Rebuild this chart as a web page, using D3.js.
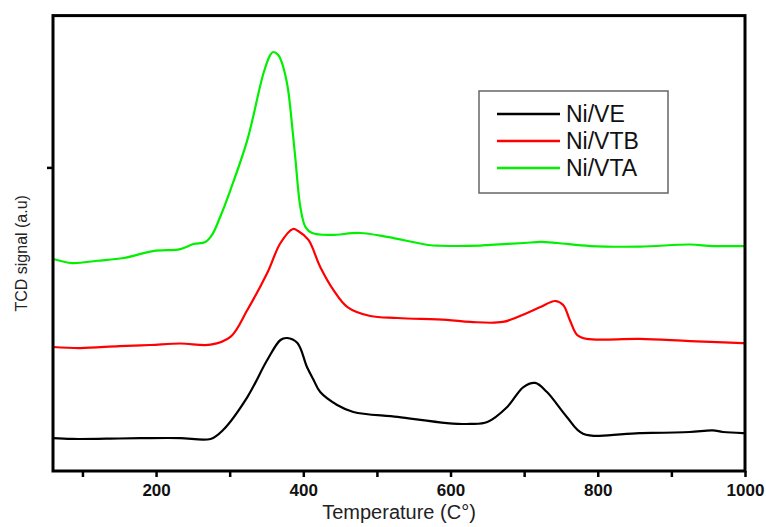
<!DOCTYPE html>
<html><head><meta charset="utf-8">
<script src="https://cdn.jsdelivr.net/npm/d3@7"></script>
<style>
html,body{margin:0;padding:0;background:#fff;}
svg{display:block;}
</style>
</head><body>
<svg id="chart" width="766" height="527"></svg>
<script>
// Temperature (°C) and TCD signal (a.u.)
const seriesNames = ["Ni/VE", "Ni/VTB", "Ni/VTA"];
const seriesColors = ["#000000", "#ff0000", "#00f000"];

const tempVE = [60, 86, 150, 192, 233, 274, 291, 324, 351, 369, 378, 392, 405, 414, 423, 446, 468, 528, 595, 627, 650, 677, 699, 715, 731, 758, 780, 857, 925, 956, 970, 997, 1000];
const sigVE  = [0.217, 0.211, 0.214, 0.217, 0.217, 0.211, 0.270, 0.487, 0.731, 0.863, 0.876, 0.843, 0.685, 0.60, 0.520, 0.435, 0.389, 0.356, 0.316, 0.310, 0.323, 0.422, 0.553, 0.580, 0.520, 0.356, 0.246, 0.250, 0.257, 0.268, 0.257, 0.250, 0.250];

const tempVTB = [60, 97, 150, 192, 233, 274, 301, 324, 351, 369, 386, 393, 407, 423, 441, 460, 491, 528, 595, 627, 671, 704, 722, 742, 753, 762, 772, 785, 857, 925, 997, 1000];
const sigVTB  = [0.817, 0.810, 0.823, 0.830, 0.840, 0.832, 0.883, 1.061, 1.304, 1.502, 1.594, 1.581, 1.522, 1.344, 1.192, 1.080, 1.021, 1.008, 0.995, 0.982, 0.982, 1.041, 1.080, 1.120, 1.094, 0.995, 0.896, 0.870, 0.870, 0.856, 0.843, 0.843];

const tempVTA = [60, 86, 120, 156, 196, 233, 251, 267, 276, 287, 301, 324, 346, 355, 359, 366, 371, 377, 380, 389, 396, 403, 412, 437, 477, 514, 570, 586, 640, 654, 700, 722, 745, 790, 857, 925, 956, 997, 1000];
const sigVTA  = [1.397, 1.370, 1.385, 1.403, 1.449, 1.462, 1.495, 1.509, 1.555, 1.673, 1.851, 2.181, 2.622, 2.740, 2.760, 2.740, 2.688, 2.576, 2.490, 2.069, 1.739, 1.607, 1.568, 1.555, 1.568, 1.542, 1.489, 1.484, 1.485, 1.490, 1.502, 1.509, 1.502, 1.482, 1.478, 1.492, 1.482, 1.482, 1.482];

const xTicks = [100, 200, 300, 400, 500, 600, 700, 800, 900, 1000];
const xTickLabels = ["", "200", "", "400", "", "600", "", "800", "", "1000"];
const yTicks = [2];

const svg = d3.select("#chart");
const x = d3.scaleLinear().domain([60, 1000]).range([53, 745]);
const y = d3.scaleLinear().domain([0, 3]).range([471, 15.6]);

const series = [
  {name: seriesNames[0], color: seriesColors[0], pts: tempVE.map((t, i) => [t, sigVE[i]])},
  {name: seriesNames[1], color: seriesColors[1], pts: tempVTB.map((t, i) => [t, sigVTB[i]])},
  {name: seriesNames[2], color: seriesColors[2], pts: tempVTA.map((t, i) => [t, sigVTA[i]])}
];

const line = d3.line().x(d => x(d[0])).y(d => y(d[1])).curve(d3.curveCatmullRom.alpha(0.5));

svg.append("clipPath").attr("id", "clip").append("rect")
  .attr("x", x(60)).attr("y", y(3)).attr("width", x(1000) - x(60)).attr("height", y(0) - y(3));

svg.append("g").attr("clip-path", "url(#clip)")
  .selectAll("path").data(series).join("path")
  .attr("d", d => line(d.pts))
  .attr("fill", "none")
  .attr("stroke", d => d.color)
  .attr("stroke-width", 2.2)
  .attr("stroke-linejoin", "round");

// axes
const xAxis = svg.append("g").attr("transform", `translate(0,${y(0)})`)
  .call(d3.axisBottom(x).tickValues(xTicks).tickSize(6).tickSizeOuter(0)
    .tickFormat((d, i) => xTickLabels[i]));
xAxis.select(".domain").remove();
xAxis.selectAll(".tick line").attr("stroke", "#000").attr("stroke-width", 2.5);
xAxis.selectAll(".tick text")
  .attr("font-family", "Liberation Sans, Arial, sans-serif")
  .attr("font-size", 17).attr("font-weight", "bold").attr("fill", "#111")
  .attr("dy", "0.95em");

const yAxis = svg.append("g").attr("transform", `translate(${x(60)},0)`)
  .call(d3.axisLeft(y).tickValues(yTicks).tickSize(6).tickSizeOuter(0).tickFormat(""));
yAxis.select(".domain").remove();
yAxis.selectAll(".tick line").attr("stroke", "#000").attr("stroke-width", 2.5);

// frame
svg.append("rect")
  .attr("x", x(60)).attr("y", y(3))
  .attr("width", x(1000) - x(60)).attr("height", y(0) - y(3))
  .attr("fill", "none").attr("stroke", "#000").attr("stroke-width", 3);

// axis titles
svg.append("text")
  .attr("x", (x(60) + x(1000)) / 2).attr("y", 519)
  .attr("text-anchor", "middle")
  .attr("font-family", "Liberation Sans, Arial, sans-serif")
  .attr("font-size", 20).attr("fill", "#222")
  .text("Temperature (C°)");

svg.append("text")
  .attr("transform", `translate(27,${(y(0) + y(3)) / 2 + 10}) rotate(-90)`)
  .attr("text-anchor", "middle")
  .attr("font-family", "Liberation Sans, Arial, sans-serif")
  .attr("font-size", 16).attr("fill", "#222")
  .text("TCD signal (a.u)");

// legend
const lg = svg.append("g");
lg.append("rect").attr("x", 479).attr("y", 91).attr("width", 189).attr("height", 102)
  .attr("fill", "#fff").attr("stroke", "#666").attr("stroke-width", 1.5);
series.forEach((s, i) => {
  const yy = 114 + i * 27;
  lg.append("line").attr("x1", 497).attr("x2", 560).attr("y1", yy).attr("y2", yy)
    .attr("stroke", s.color).attr("stroke-width", 2.5);
  lg.append("text").attr("x", 566).attr("y", yy).attr("dy", "0.36em")
    .attr("font-family", "Liberation Sans, Arial, sans-serif")
    .attr("font-size", 23).attr("fill", "#111")
    .text(s.name);
});
</script>
</body></html>
